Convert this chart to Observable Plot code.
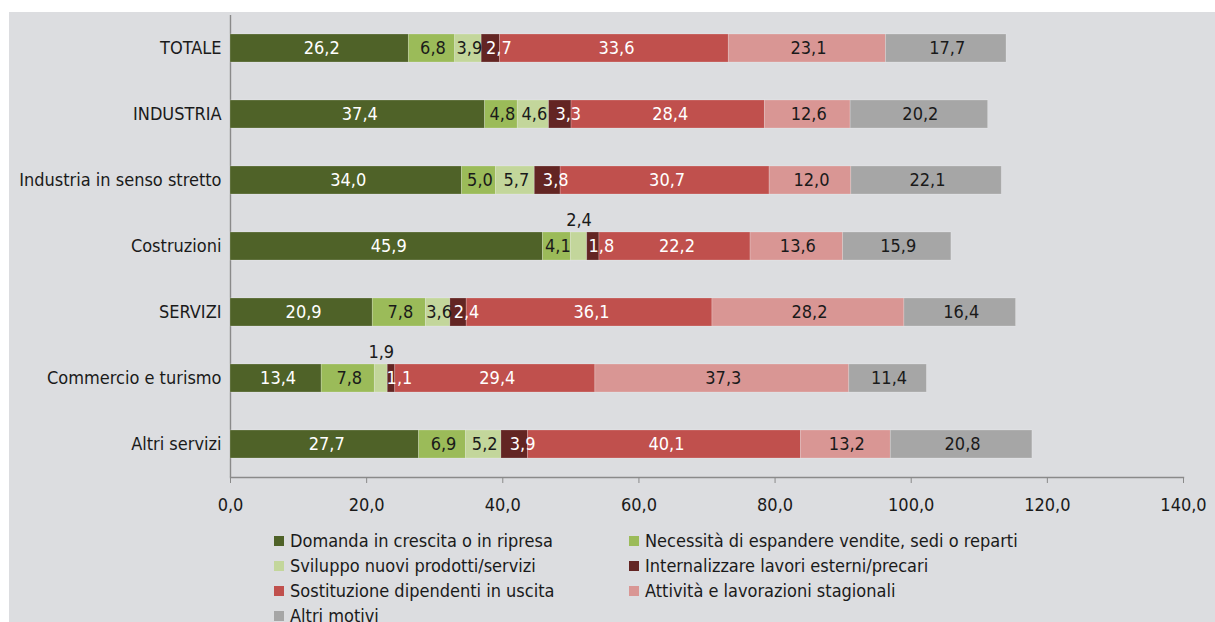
<!DOCTYPE html>
<html>
<head>
<meta charset="utf-8">
<script src="https://cdn.jsdelivr.net/npm/d3@7"></script>
<script src="https://cdn.jsdelivr.net/npm/@observablehq/plot@0.6"></script>
<style>
html,body{margin:0;padding:0;background:#fff;width:1215px;height:622px;overflow:hidden;}
#panel{position:absolute;left:9px;top:12px;width:1206px;height:610px;background:#dcdde0;}
#chart{position:absolute;left:0;top:0;}
#legend{position:absolute;left:274px;top:528px;display:grid;grid-template-columns:355px 420px;grid-auto-rows:25px;font-family:"DejaVu Sans Condensed","DejaVu Sans",sans-serif;font-size:18px;color:#1a1a1a;}
.item{display:flex;align-items:center;white-space:nowrap;}
.sw{width:10px;height:10px;margin-right:6px;flex:none;}
</style>
</head>
<body>
<div id="panel"></div>
<div id="chart"></div>
<div id="legend"></div>
<script>
const categories = ["TOTALE", "INDUSTRIA", "Industria in senso stretto", "Costruzioni", "SERVIZI", "Commercio e turismo", "Altri servizi"];
const series = [
  "Domanda in crescita o in ripresa",
  "Necessità di espandere vendite, sedi o reparti",
  "Sviluppo nuovi prodotti/servizi",
  "Internalizzare lavori esterni/precari",
  "Sostituzione dipendenti in uscita",
  "Attività e lavorazioni stagionali",
  "Altri motivi"
];
const domanda        = [26.2, 37.4, 34.0, 45.9, 20.9, 13.4, 27.7];
const necessita      = [6.8, 4.8, 5.0, 4.1, 7.8, 7.8, 6.9];
const sviluppo       = [3.9, 4.6, 5.7, 2.4, 3.6, 1.9, 5.2];
const internalizzare = [2.7, 3.3, 3.8, 1.8, 2.4, 1.1, 3.9];
const sostituzione   = [33.6, 28.4, 30.7, 22.2, 36.1, 29.4, 40.1];
const stagionali     = [23.1, 12.6, 12.0, 13.6, 28.2, 37.3, 13.2];
const altri          = [17.7, 20.2, 22.1, 15.9, 16.4, 11.4, 20.8];
const xTicks = [0, 20, 40, 60, 80, 100, 120, 140];

const colors = ["#4f6228", "#9bbb59", "#c3d69b", "#632523", "#c0504d", "#d99694", "#a6a6a6"];
const whiteText = new Set([series[0], series[4]]);
const maroon = series[3];

const seriesValues = [domanda, necessita, sviluppo, internalizzare, sostituzione, stagionali, altri];
const data = [];
categories.forEach((c, i) => {
  series.forEach((s, j) => data.push({cat: c, series: s, value: seriesValues[j][i]}));
});

const fmt = v => v.toFixed(1).replace(".", ",");
const isAbove = d => d.series === series[2] && d.value < 3;
const font = '"DejaVu Sans Condensed","DejaVu Sans",sans-serif';
const stack = extra => Plot.stackX({x: "value", y: "cat", z: "series", order: series, ...extra});

const chart = Plot.plot({
  width: 1215,
  height: 520,
  marginLeft: 230,
  marginRight: 32,
  marginTop: 15,
  marginBottom: 43,
  style: {fontFamily: font, fontSize: "18px", background: "transparent", color: "#1a1a1a", overflow: "visible"},
  x: {domain: [0, 140]},
  y: {domain: categories, paddingInner: 0.57, paddingOuter: 0.285},
  color: {domain: series, range: colors},
  marks: [
    Plot.ruleX([0], {stroke: "#8a8a8a", strokeWidth: 1.4}),
    Plot.barX(data, stack({fill: "series", stroke: "#ffffff", strokeOpacity: 0.25, strokeWidth: 0.8})),
    Plot.frame({anchor: "bottom", stroke: "#8a8a8a", strokeWidth: 1.4}),
    Plot.axisX({ticks: xTicks, tickFormat: fmt, tickSize: 6, tickPadding: 15, stroke: "#8a8a8a", fontSize: 18, label: null}),
    Plot.axisY({tickSize: 0, tickPadding: 9, fontSize: 18, label: null}),
    Plot.text(data, stack({text: d => whiteText.has(d.series) ? fmt(d.value) : "", fill: "white", fontSize: 18, dx: 2})),
    Plot.text(data, stack({text: d => d.series === maroon ? fmt(d.value) : "", fill: "white", fontSize: 18, dx: 8})),
    Plot.text(data, stack({text: d => (!whiteText.has(d.series) && d.series !== maroon && !isAbove(d)) ? fmt(d.value) : "", fill: "#1a1a1a", fontSize: 18, dx: 1})),
    Plot.text(data, stack({text: d => isAbove(d) ? fmt(d.value) : "", fill: "#1a1a1a", fontSize: 18, dy: -26}))
  ]
});
document.getElementById("chart").appendChild(chart);

const legend = d3.select("#legend");
series.forEach((s, j) => {
  const item = legend.append("div").attr("class", "item");
  item.append("div").attr("class", "sw").style("background", colors[j]);
  item.append("span").text(s);
});
</script>
</body>
</html>
